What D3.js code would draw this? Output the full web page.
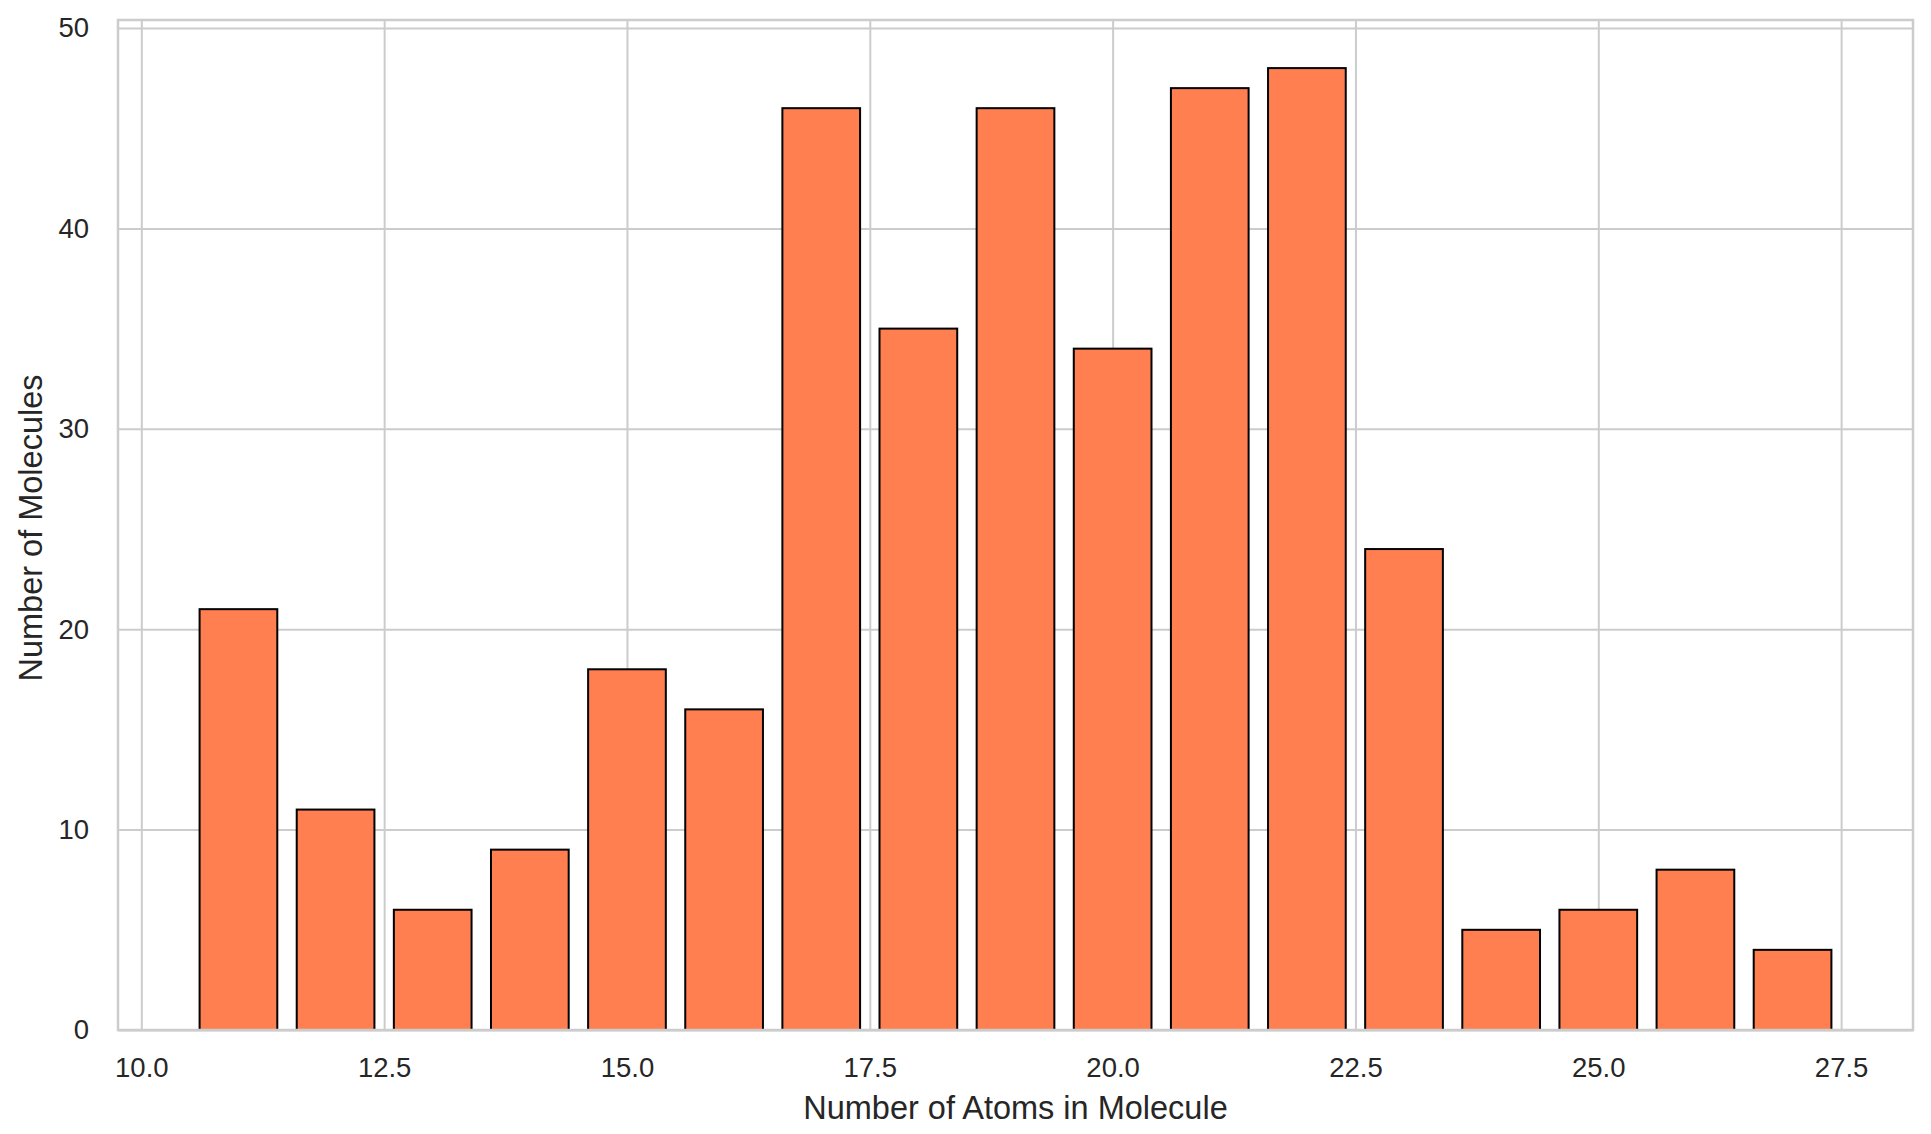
<!DOCTYPE html>
<html>
<head>
<meta charset="utf-8">
<script src="https://cdn.jsdelivr.net/npm/d3@7"></script>
<style>
  body { margin: 0; background: #fff; }
  text { font-family: "Liberation Sans", Arial, sans-serif; fill: #262626; }
</style>
</head>
<body>
<script>
// atoms per molecule -> how many molecules
var atomCounts = [11, 12, 13, 14, 15, 16, 17, 18, 19, 20, 21, 22, 23, 24, 25, 26, 27];
var moleculeCounts = [21, 11, 6, 9, 18, 16, 46, 35, 46, 34, 47, 48, 24, 5, 6, 8, 4];
var xTicks = [10.0, 12.5, 15.0, 17.5, 20.0, 22.5, 25.0, 27.5];
var yTicks = [0, 10, 20, 30, 40, 50];

var width = 1931,
    height = 1134;
var margin = {top: 20, right: 18, bottom: 104, left: 118};
var w = width - margin.left - margin.right,
    h = height - margin.top - margin.bottom;
var barWidth = 0.8;

var svg = d3.select("body").append("svg")
    .attr("width", width)
    .attr("height", height);

var g = svg.append("g")
    .attr("transform", "translate(" + margin.left + "," + margin.top + ")");

// matplotlib style 5% padding around the bars
var xmin = d3.min(atomCounts) - barWidth / 2,
    xmax = d3.max(atomCounts) + barWidth / 2;
var xpad = (xmax - xmin) * 0.05;
var x = d3.scaleLinear()
    .domain([xmin - xpad, xmax + xpad])
    .range([0, w]);
var y = d3.scaleLinear()
    .domain([0, d3.max(moleculeCounts) * 1.05])
    .range([h, 0]);

// axes double as grid
var xAxis = g.append("g")
    .attr("transform", "translate(0," + h + ")")
    .call(d3.axisBottom(x)
        .tickValues(xTicks)
        .tickFormat(d3.format(".1f"))
        .tickSize(-h)
        .tickPadding(27));
var yAxis = g.append("g")
    .call(d3.axisLeft(y)
        .tickValues(yTicks)
        .tickSize(-w)
        .tickPadding(29));

[xAxis, yAxis].forEach(function(a) {
    a.select(".domain").remove();
    a.selectAll("line")
        .attr("stroke", "#cccccc")
        .attr("stroke-width", 2);
    a.selectAll("text")
        .attr("font-size", 27.5)
        .attr("font-family", "Liberation Sans, Arial, sans-serif")
        .attr("fill", "#262626");
});

// bars
g.selectAll(".bar")
    .data(atomCounts)
    .enter()
    .append("rect")
    .attr("class", "bar")
    .attr("x", function(d) { return x(d - barWidth / 2); })
    .attr("width", function(d) { return x(d + barWidth / 2) - x(d - barWidth / 2); })
    .attr("y", function(d, i) { return y(moleculeCounts[i]); })
    .attr("height", function(d, i) { return h - y(moleculeCounts[i]); })
    .attr("fill", "#ff7f50")
    .attr("stroke", "#000")
    .attr("stroke-width", 2);

// frame
g.append("rect")
    .attr("width", w)
    .attr("height", h)
    .attr("fill", "none")
    .attr("stroke", "#cccccc")
    .attr("stroke-width", 2.5);

// labels
svg.append("text")
    .attr("x", margin.left + w / 2)
    .attr("y", 1119)
    .attr("text-anchor", "middle")
    .attr("font-size", 32.5)
    .text("Number of Atoms in Molecule");

svg.append("text")
    .attr("transform", "translate(42," + 528 + ") rotate(-90)")
    .attr("text-anchor", "middle")
    .attr("font-size", 32.5)
    .text("Number of Molecules");
</script>
</body>
</html>
